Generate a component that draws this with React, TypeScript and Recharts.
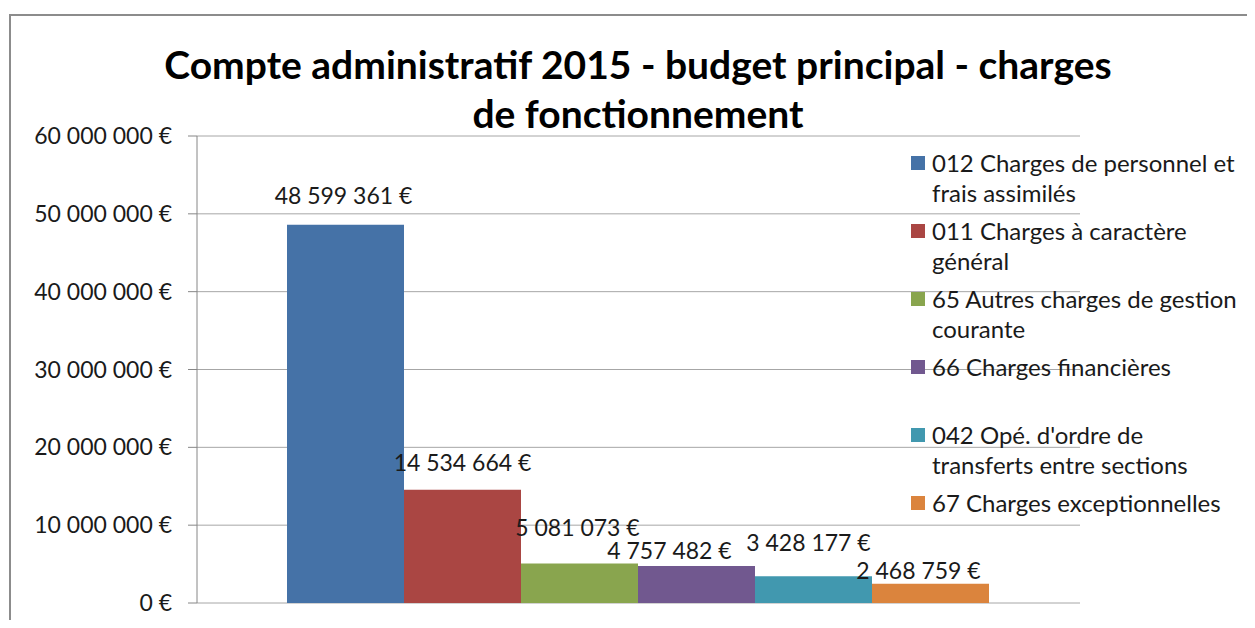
import { BarChart, Bar, XAxis, YAxis, CartesianGrid } from 'recharts';

const categories = ['Compte administratif 2015'];

const seriesNames = [
  '012 Charges de personnel et\nfrais assimilés',
  '011 Charges à caractère\ngénéral',
  '65 Autres charges de gestion\ncourante',
  '66 Charges financières',
  "042 Opé. d'ordre de\ntransferts entre sections",
  '67 Charges exceptionnelles',
];

const seriesValues = [48599361, 14534664, 5081073, 4757482, 3428177, 2468759];

const yTicks = [0, 10000000, 20000000, 30000000, 40000000, 50000000, 60000000];

// couleurs Excel 2007
const seriesColors = ['#4572A7', '#AA4643', '#89A54E', '#71588F', '#4198AF', '#DB843D'];

// décalage des étiquettes par rapport au haut de la barre
const labelShift = [
  { dx: -2, dy: -27 },
  { dx: 0, dy: -25 },
  { dx: -2, dy: -33 },
  { dx: -27, dy: -13 },
  { dx: -5, dy: -31 },
  { dx: -12, dy: -11 },
];

const FONT = 'Lato, "Open Sans", sans-serif';

const fmt = (v: number) => String(v).replace(/\B(?=(\d{3})+(?!\d))/g, ' ') + ' €';

const data = categories.map((c) => {
  const row: Record<string, any> = { category: c };
  seriesValues.forEach((v, i) => {
    row['s' + i] = v;
  });
  return row;
});

const App = () => {
  const makeLabel = (i: number) => (p: any) => {
    const { x, y, width, value } = p;
    return (
      <text
        x={x + width / 2 + labelShift[i].dx}
        y={y + labelShift[i].dy}
        textAnchor="middle"
        dominantBaseline="middle"
        fontFamily={FONT}
        fontSize={23}
        fill="#1a1a1a"
      >
        {fmt(value)}
      </text>
    );
  };

  return (
    <div style={{ position: 'relative', width: 1255, height: 628, margin: -8, background: '#fff', overflow: 'hidden' }}>
      <div
        style={{
          position: 'absolute',
          left: 9,
          top: 14,
          width: 1400,
          height: 800,
          borderLeft: '2px solid #8c8c8c',
          borderTop: '2px solid #8c8c8c',
        }}
      />
      <div
        style={{
          position: 'absolute',
          left: 0,
          top: 40,
          width: 1276,
          textAlign: 'center',
          fontFamily: FONT,
          fontWeight: 700,
          fontSize: 39,
          lineHeight: '49px',
          color: '#000',
        }}
      >
        Compte administratif 2015 - budget principal - charges
        <br />
        de fonctionnement
      </div>

      <div style={{ position: 'absolute', left: 0, top: 0 }}>
        <BarChart
          width={1255}
          height={628}
          data={data}
          margin={{ top: 136, right: 175, bottom: 25, left: 47 }}
          barCategoryGap={90}
          barGap={0}
        >
          <CartesianGrid vertical={false} stroke="#a6a6a6" />
          <XAxis dataKey="category" hide />
          <YAxis
            width={150}
            domain={[0, 60000000]}
            ticks={yTicks}
            interval={0}
            tickFormatter={fmt}
            axisLine={{ stroke: '#868686' }}
            tickLine={{ stroke: '#868686' }}
            tickSize={9}
            tickMargin={16}
            tick={{ fill: '#1a1a1a', fontSize: 23, fontFamily: FONT }}
          />
          {seriesNames.map((n, i) => (
            <Bar
              key={n}
              dataKey={'s' + i}
              name={n}
              fill={seriesColors[i]}
              isAnimationActive={false}
              label={makeLabel(i)}
            />
          ))}
        </BarChart>
      </div>

      <div style={{ position: 'absolute', left: 911, top: 148, width: 340, fontFamily: FONT, fontSize: 24, color: '#1a1a1a' }}>
        {seriesNames.map((n, i) => (
          <div key={n} style={{ position: 'relative', height: 68 }}>
            <span
              style={{
                position: 'absolute',
                left: 0,
                top: 8,
                width: 14,
                height: 14,
                background: seriesColors[i],
              }}
            />
            <div style={{ marginLeft: 21, lineHeight: '30px', whiteSpace: 'pre-line' }}>{n}</div>
          </div>
        ))}
      </div>
    </div>
  );
};

export default App;
